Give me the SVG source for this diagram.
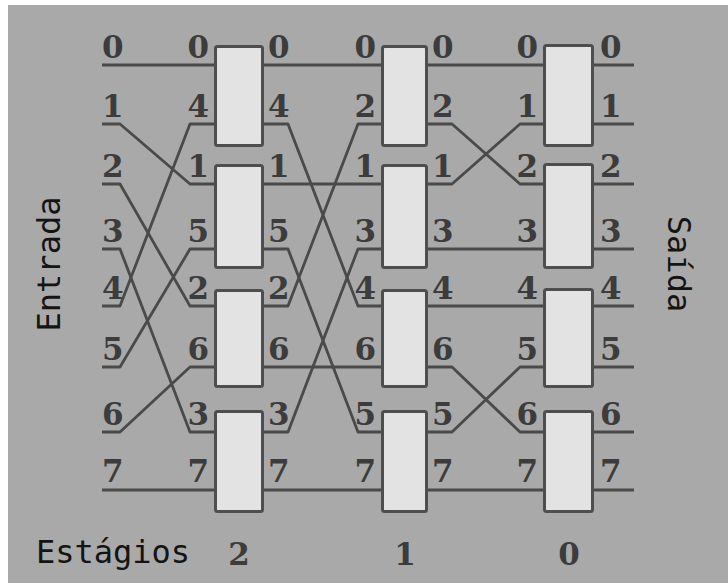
<svg xmlns="http://www.w3.org/2000/svg" width="728" height="585" viewBox="0 0 728 585">
<style>
.w{fill:none;stroke:#4a4a4a;stroke-width:2.8;stroke-linejoin:round}
.bx{fill:#e3e3e3;stroke:#4e4e4e;stroke-width:3}
.n{font-family:"DejaVu Serif","Liberation Serif",serif;font-weight:bold;font-size:31px;fill:#3c3c3c}
.e{text-anchor:end}
.t{font-family:"DejaVu Sans Mono","Liberation Mono",monospace;font-size:32px;fill:#141414}
</style>
<rect width="728" height="585" fill="#ffffff"/>
<rect x="8" y="5" width="720" height="578" fill="#a9a9a9"/>
<g id="connectors">
<path class="w" d="M102,65H214"/>
<path class="w" d="M102,124H120L190,184H214"/>
<path class="w" d="M102,184H120L190,306H214"/>
<path class="w" d="M102,249H120L190,432H214"/>
<path class="w" d="M102,306H120L190,124H214"/>
<path class="w" d="M102,367H120L190,249H214"/>
<path class="w" d="M102,432H120L190,367H214"/>
<path class="w" d="M102,490H214"/>
<path class="w" d="M264,65H381"/>
<path class="w" d="M264,124H288L358,306H381"/>
<path class="w" d="M264,184H381"/>
<path class="w" d="M264,249H288L358,432H381"/>
<path class="w" d="M264,306H288L358,124H381"/>
<path class="w" d="M264,367H381"/>
<path class="w" d="M264,432H288L358,249H381"/>
<path class="w" d="M264,490H381"/>
<path class="w" d="M428,65H543"/>
<path class="w" d="M428,124H452L520,184H543"/>
<path class="w" d="M428,184H452L520,124H543"/>
<path class="w" d="M428,249H543"/>
<path class="w" d="M428,306H543"/>
<path class="w" d="M428,367H452L520,432H543"/>
<path class="w" d="M428,432H452L520,367H543"/>
<path class="w" d="M428,490H543"/>
<path class="w" d="M594,65H634M594,124H634M594,184H634M594,249H634M594,306H634M594,367H634M594,432H634M594,490H634"/>
</g>
<g id="s2b0"><rect class="bx" x="215.5" y="46.5" width="47" height="99" rx="2"/></g>
<g id="s2b1"><rect class="bx" x="215.5" y="165.5" width="47" height="102" rx="2"/></g>
<g id="s2b2"><rect class="bx" x="215.5" y="290.5" width="47" height="96" rx="2"/></g>
<g id="s2b3"><rect class="bx" x="215.5" y="411.5" width="47" height="100" rx="2"/></g>
<g id="s1b0"><rect class="bx" x="382.5" y="46.5" width="44" height="99" rx="2"/></g>
<g id="s1b1"><rect class="bx" x="382.5" y="165.5" width="44" height="102" rx="2"/></g>
<g id="s1b2"><rect class="bx" x="382.5" y="290.5" width="44" height="96" rx="2"/></g>
<g id="s1b3"><rect class="bx" x="382.5" y="411.5" width="44" height="100" rx="2"/></g>
<g id="s0b0"><rect class="bx" x="544.5" y="45.5" width="48" height="100" rx="2"/></g>
<g id="s0b1"><rect class="bx" x="544.5" y="164.5" width="48" height="103" rx="2"/></g>
<g id="s0b2"><rect class="bx" x="544.5" y="289.5" width="48" height="97" rx="2"/></g>
<g id="s0b3"><rect class="bx" x="544.5" y="411.5" width="48" height="100" rx="2"/></g>
<g id="labels-in">
<text class="n" x="102" y="58">0</text>
<text class="n" x="102" y="117">1</text>
<text class="n" x="102" y="177">2</text>
<text class="n" x="102" y="242">3</text>
<text class="n" x="102" y="299">4</text>
<text class="n" x="102" y="360">5</text>
<text class="n" x="102" y="425">6</text>
<text class="n" x="102" y="482">7</text>
</g>
<g id="labels-s2">
<text class="n e" x="209" y="58">0</text>
<text class="n e" x="209" y="117">4</text>
<text class="n e" x="209" y="177">1</text>
<text class="n e" x="209" y="242">5</text>
<text class="n e" x="209" y="299">2</text>
<text class="n e" x="209" y="360">6</text>
<text class="n e" x="209" y="425">3</text>
<text class="n e" x="209" y="482">7</text>
<text class="n" x="268" y="58">0</text>
<text class="n" x="268" y="117">4</text>
<text class="n" x="268" y="177">1</text>
<text class="n" x="268" y="242">5</text>
<text class="n" x="268" y="299">2</text>
<text class="n" x="268" y="360">6</text>
<text class="n" x="268" y="425">3</text>
<text class="n" x="268" y="482">7</text>
</g>
<g id="labels-s1">
<text class="n e" x="376" y="58">0</text>
<text class="n e" x="376" y="117">2</text>
<text class="n e" x="376" y="177">1</text>
<text class="n e" x="376" y="242">3</text>
<text class="n e" x="376" y="299">4</text>
<text class="n e" x="376" y="360">6</text>
<text class="n e" x="376" y="425">5</text>
<text class="n e" x="376" y="482">7</text>
<text class="n" x="432" y="58">0</text>
<text class="n" x="432" y="117">2</text>
<text class="n" x="432" y="177">1</text>
<text class="n" x="432" y="242">3</text>
<text class="n" x="432" y="299">4</text>
<text class="n" x="432" y="360">6</text>
<text class="n" x="432" y="425">5</text>
<text class="n" x="432" y="482">7</text>
</g>
<g id="labels-s0">
<text class="n e" x="538" y="58">0</text>
<text class="n e" x="538" y="117">1</text>
<text class="n e" x="538" y="177">2</text>
<text class="n e" x="538" y="242">3</text>
<text class="n e" x="538" y="299">4</text>
<text class="n e" x="538" y="360">5</text>
<text class="n e" x="538" y="425">6</text>
<text class="n e" x="538" y="482">7</text>
<text class="n" x="600" y="58">0</text>
<text class="n" x="600" y="117">1</text>
<text class="n" x="600" y="177">2</text>
<text class="n" x="600" y="242">3</text>
<text class="n" x="600" y="299">4</text>
<text class="n" x="600" y="360">5</text>
<text class="n" x="600" y="425">6</text>
<text class="n" x="600" y="482">7</text>
</g>
<g id="titles">
<text class="t" transform="translate(60,264) rotate(-90)" text-anchor="middle">Entrada</text>
<text class="t" transform="translate(668,264) rotate(90)" text-anchor="middle">Saída</text>
<text class="t" x="36" y="563">Estágios</text>
<text class="n" x="239" y="565" text-anchor="middle" font-size="33">2</text>
<text class="n" x="405" y="565" text-anchor="middle" font-size="33">1</text>
<text class="n" x="569" y="565" text-anchor="middle" font-size="33">0</text>
</g>
</svg>
